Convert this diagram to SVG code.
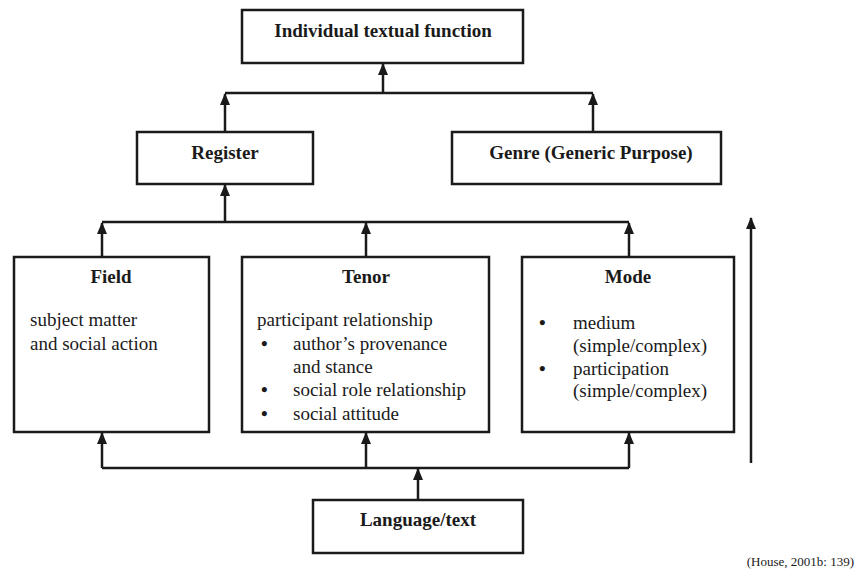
<svg xmlns="http://www.w3.org/2000/svg" width="856" height="573" viewBox="0 0 856 573">
<style>
.box{fill:#fff;stroke:#1a1a1a;stroke-width:2.5}
.t{font-family:"Liberation Serif","Times New Roman",serif;font-size:19px;fill:#1a1a1a}
.b{font-weight:bold;text-anchor:middle}
.u{font-weight:bold}
.c{fill:none;stroke:#1a1a1a;stroke-width:2.5}
</style>
<defs>
<marker id="ah" viewBox="0 0 12 10" refX="11" refY="5" markerWidth="12" markerHeight="10" markerUnits="userSpaceOnUse" orient="auto">
<path d="M0,0 L12,5 L0,10 z" fill="#1a1a1a"/>
</marker>
</defs>
<g id="connectors">
<path class="c" d="M383,93 V64" marker-end="url(#ah)"/>
<path class="c" d="M225,93 H593"/>
<path class="c" d="M225,132 V94" marker-end="url(#ah)"/>
<path class="c" d="M593,132 V94" marker-end="url(#ah)"/>
<path class="c" d="M225,222 V185" marker-end="url(#ah)"/>
<path class="c" d="M102,222 H629"/>
<path class="c" d="M102,257 V223" marker-end="url(#ah)"/>
<path class="c" d="M366,257 V223" marker-end="url(#ah)"/>
<path class="c" d="M629,257 V223" marker-end="url(#ah)"/>
<path class="c" d="M102,468 H629"/>
<path class="c" d="M102,468 V433" marker-end="url(#ah)"/>
<path class="c" d="M366,468 V433" marker-end="url(#ah)"/>
<path class="c" d="M629,468 V433" marker-end="url(#ah)"/>
<path class="c" d="M418,500 V469" marker-end="url(#ah)"/>
<path class="c" d="M751,463 V218" marker-end="url(#ah)"/>
</g>
<g id="individual">
<rect class="box" x="242" y="10" width="281" height="53"/>
<text class="t b" x="383" y="37">Individual textual function</text>
</g>
<g id="register">
<rect class="box" x="137" y="132" width="176" height="52"/>
<text class="t b" x="225" y="159">Register</text>
</g>
<g id="genre">
<rect class="box" x="452" y="132" width="269" height="52"/>
<text class="t b" x="591" y="159">Genre (Generic Purpose)</text>
</g>
<g id="field">
<rect class="box" x="14" y="257" width="195" height="175"/>
<text class="t b" x="111" y="283">Field</text>
<text class="t" x="30" y="326">subject matter</text>
<text class="t" x="30" y="350">and social action</text>
</g>
<g id="tenor">
<rect class="box" x="242" y="257" width="247" height="175"/>
<text class="t b" x="366" y="283">Tenor</text>
<text class="t" x="257" y="326">participant relationship</text>
<text class="t u" x="261" y="350">•</text>
<text class="t" x="293" y="350">author’s provenance</text>
<text class="t" x="293" y="373">and stance</text>
<text class="t u" x="261" y="396">•</text>
<text class="t" x="293" y="396">social role relationship</text>
<text class="t u" x="261" y="420">•</text>
<text class="t" x="293" y="420">social attitude</text>
</g>
<g id="mode">
<rect class="box" x="522" y="257" width="212" height="175"/>
<text class="t b" x="628" y="283">Mode</text>
<text class="t u" x="539" y="329">•</text>
<text class="t" x="573" y="329">medium</text>
<text class="t" x="573" y="352">(simple/complex)</text>
<text class="t u" x="539" y="375">•</text>
<text class="t" x="573" y="375">participation</text>
<text class="t" x="573" y="397">(simple/complex)</text>
</g>
<g id="language">
<rect class="box" x="313" y="500" width="210" height="53"/>
<text class="t b" x="418" y="526">Language/text</text>
</g>
<text class="t" x="854" y="566" text-anchor="end" style="font-size:13px">(House, 2001b: 139)</text>
</svg>
